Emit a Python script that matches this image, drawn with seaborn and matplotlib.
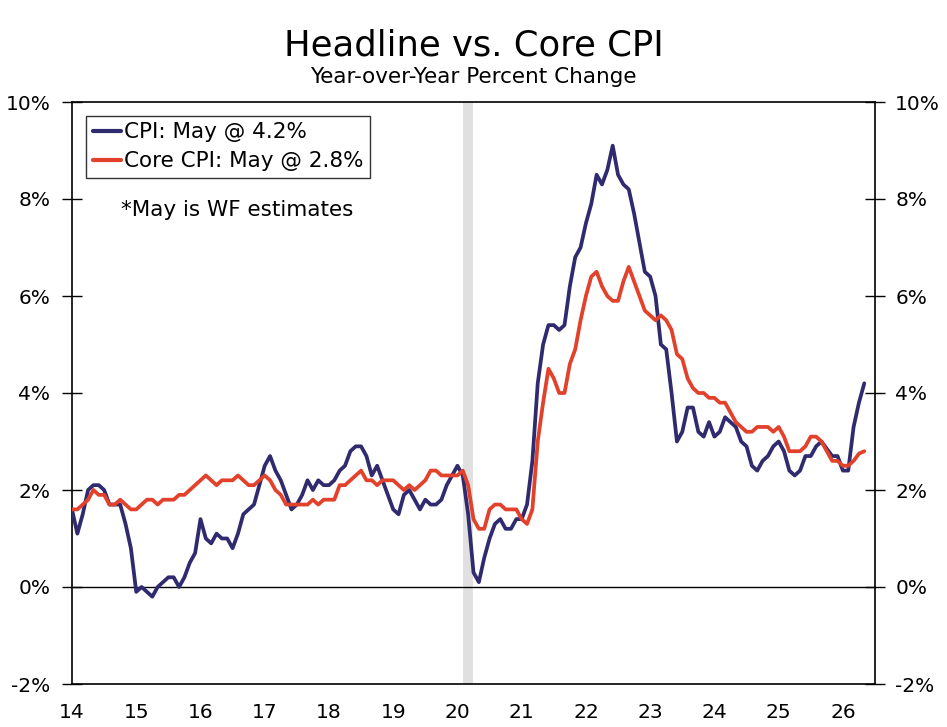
import numpy as np
import pandas as pd
import matplotlib
matplotlib.use("Agg")
import matplotlib.pyplot as plt
import seaborn as sns
from matplotlib.ticker import FuncFormatter

######## Data: YoY % change, monthly Jan-14 .. May-26 ########
cpi = [1.6, 1.1, 1.5, 2.0, 2.1, 2.1, 2.0, 1.7, 1.7, 1.7, 1.3, 0.8,
       -0.1, 0.0, -0.1, -0.2, 0.0, 0.1, 0.2, 0.2, 0.0, 0.2, 0.5, 0.7,
       1.4, 1.0, 0.9, 1.1, 1.0, 1.0, 0.8, 1.1, 1.5, 1.6, 1.7, 2.1,
       2.5, 2.7, 2.4, 2.2, 1.9, 1.6, 1.7, 1.9, 2.2, 2.0, 2.2, 2.1,
       2.1, 2.2, 2.4, 2.5, 2.8, 2.9, 2.9, 2.7, 2.3, 2.5, 2.2, 1.9,
       1.6, 1.5, 1.9, 2.0, 1.8, 1.6, 1.8, 1.7, 1.7, 1.8, 2.1, 2.3,
       2.5, 2.3, 1.5, 0.3, 0.1, 0.6, 1.0, 1.3, 1.4, 1.2, 1.2, 1.4,
       1.4, 1.7, 2.6, 4.2, 5.0, 5.4, 5.4, 5.3, 5.4, 6.2, 6.8, 7.0,
       7.5, 7.9, 8.5, 8.3, 8.6, 9.1, 8.5, 8.3, 8.2, 7.7, 7.1, 6.5,
       6.4, 6.0, 5.0, 4.9, 4.0, 3.0, 3.2, 3.7, 3.7, 3.2, 3.1, 3.4,
       3.1, 3.2, 3.5, 3.4, 3.3, 3.0, 2.9, 2.5, 2.4, 2.6, 2.7, 2.9,
       3.0, 2.8, 2.4, 2.3, 2.4, 2.7, 2.7, 2.9, 3.0, 2.85, 2.7, 2.7,
       2.4, 2.4, 3.3, 3.8, 4.2]

core = [1.6, 1.6, 1.7, 1.8, 2.0, 1.9, 1.9, 1.7, 1.7, 1.8, 1.7, 1.6,
        1.6, 1.7, 1.8, 1.8, 1.7, 1.8, 1.8, 1.8, 1.9, 1.9, 2.0, 2.1,
        2.2, 2.3, 2.2, 2.1, 2.2, 2.2, 2.2, 2.3, 2.2, 2.1, 2.1, 2.2,
        2.3, 2.2, 2.0, 1.9, 1.7, 1.7, 1.7, 1.7, 1.7, 1.8, 1.7, 1.8,
        1.8, 1.8, 2.1, 2.1, 2.2, 2.3, 2.4, 2.2, 2.2, 2.1, 2.2, 2.2,
        2.2, 2.1, 2.0, 2.1, 2.0, 2.1, 2.2, 2.4, 2.4, 2.3, 2.3, 2.3,
        2.3, 2.4, 2.1, 1.4, 1.2, 1.2, 1.6, 1.7, 1.7, 1.6, 1.6, 1.6,
        1.4, 1.3, 1.6, 3.0, 3.8, 4.5, 4.3, 4.0, 4.0, 4.6, 4.9, 5.5,
        6.0, 6.4, 6.5, 6.2, 6.0, 5.9, 5.9, 6.3, 6.6, 6.3, 6.0, 5.7,
        5.6, 5.5, 5.6, 5.5, 5.3, 4.8, 4.7, 4.3, 4.1, 4.0, 4.0, 3.9,
        3.9, 3.8, 3.8, 3.6, 3.4, 3.3, 3.2, 3.2, 3.3, 3.3, 3.3, 3.2,
        3.3, 3.1, 2.8, 2.8, 2.8, 2.9, 3.1, 3.1, 3.0, 2.8, 2.6, 2.6,
        2.5, 2.5, 2.6, 2.75, 2.8]

recession = ("2020-02", "2020-04")
year_ticks = list(range(14, 27))
pct_ticks = [-2, 0, 2, 4, 6, 8, 10]

months = pd.period_range("2014-01", periods=len(cpi), freq="M")
df = pd.DataFrame({
    "t": months.year - 2000 + (months.month - 1) / 12,
    "cpi": cpi,
    "core": core,
})

def to_t(p):
    p = pd.Period(p, freq="M")
    return p.year - 2000 + (p.month - 1) / 12

######## Plot ########
sns.set_style("white")
plt.rcParams["font.family"] = ["DejaVu Sans"]
plt.rcParams["text.color"] = "black"

navy = "#2f2b6e"
red = "#e2412b"
fs = 14.5

fig = plt.figure(figsize=(9.47, 7.27), dpi=100)
ax = fig.add_axes([72 / 947, 1 - 684 / 727, (875 - 72) / 947, (684 - 102) / 727])

ax.axvspan(to_t(recession[0]), to_t(recession[1]), color="#e0e0e0", lw=0, zorder=0)
ax.axhline(0, color="black", lw=1, zorder=1)

sns.lineplot(data=df, x="t", y="cpi", ax=ax, color=navy, lw=2.7,
             label="CPI: May @ 4.2%", zorder=3)
sns.lineplot(data=df, x="t", y="core", ax=ax, color=red, lw=2.7,
             label="Core CPI: May @ 2.8%", zorder=4)

ax.set_xlim(14, 26.5)
ax.set_ylim(-2, 10)
ax.set_xticks(year_ticks)
ax.set_yticks(pct_ticks)
ax.set_xlabel("")
ax.set_ylabel("")
pct_fmt = FuncFormatter(lambda v, _: f"{v:.0f}%")
ax.yaxis.set_major_formatter(pct_fmt)

for s in ax.spines.values():
    s.set_color("black")
    s.set_linewidth(1.2)

ax.tick_params(axis="both", direction="inout", length=15, width=1,
               labelsize=fs, colors="black")
ax.tick_params(axis="x", pad=6)
ax.tick_params(axis="y", pad=8)

ax2 = ax.twinx()
ax2.set_ylim(-2, 10)
ax2.set_yticks(pct_ticks)
ax2.yaxis.set_major_formatter(pct_fmt)
ax2.tick_params(axis="y", direction="inout", length=15, width=1,
                labelsize=fs, pad=7, colors="black")
for s in ax2.spines.values():
    s.set_visible(False)

leg = ax.legend(loc="upper left", bbox_to_anchor=(0.018, 0.976), fontsize=15.5,
                frameon=True, fancybox=False, handlelength=1.3,
                handletextpad=0.15, borderpad=0.3, labelspacing=0.42,
                borderaxespad=0)
leg.get_frame().set_edgecolor("black")
leg.get_frame().set_linewidth(1)
for h in leg.get_lines():
    h.set_linewidth(3)

fig.text(121 / 947, 1 - 210 / 727, "*May is WF estimates",
         fontsize=15.5, va="center", ha="left")

fig.text(0.5 * (72 + 875) / 947, 1 - 55 / 727, "Headline vs. Core CPI",
         fontsize=25.5, ha="center", va="baseline")
fig.text(0.5 * (72 + 875) / 947, 1 - 83 / 727, "Year-over-Year Percent Change",
         fontsize=15.5, ha="center", va="baseline")

fig.savefig("out.png", dpi=100, facecolor="white")
